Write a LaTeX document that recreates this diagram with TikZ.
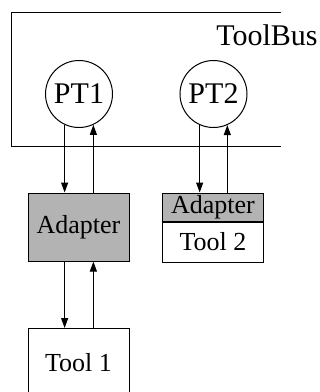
\documentclass[tikz,border=0pt]{standalone}
\usepackage{fontspec}
\setmainfont{Liberation Serif}
\usetikzlibrary{arrows.meta}
\definecolor{adgray}{RGB}{179,179,179}
\tikzset{
  box/.style={draw, line width=1pt, inner sep=0pt, minimum width=101pt, font=\fontsize{26}{30}\selectfont},
  proc/.style={draw, circle, line width=1pt, inner sep=0pt, minimum size=67pt, font=\fontsize{30}{34}\selectfont},
  flow/.style={-{Triangle[length=10pt,width=7pt]}, line width=1pt},
}
\begin{document}
\begin{tikzpicture}[x=1pt,y=-1pt,line width=1pt]
\useasboundingbox (0,0) rectangle (320,392);
\clip (0,0) rectangle (320,392);
% ToolBus frame
\coordinate (tl) at (11,12);
\coordinate (tr) at (281,12);
\coordinate (bl) at (11,146);
\coordinate (br) at (281,146);
\draw (tr) -- (tl) -- (bl) -- (br);
\node[anchor=base east, font=\fontsize{30}{34}\selectfont, inner sep=0pt] (tb) at (318,45) {ToolBus};
% processes
\node[proc] (pt1) at (79,94) {PT1};
\node[proc] (pt2) at (213.5,94) {PT2};
% adapters and tools
\node[box, fill=adgray, minimum height=68pt] (ad1) at (78.5,227) {Adapter};
\node[box, fill=adgray, minimum height=28pt] (ad2) at (213,207) {Adapter};
\node[box, minimum height=40pt, anchor=north] (tool2) at (ad2.south) {Tool 2};
\node[box, minimum height=68pt, anchor=north] (tool1) at (78.5,328) {Tool 1};
% connectors
\draw[flow] (pt1.-115) -- (pt1.-115 |- ad1.north);
\draw[flow] (pt1.-65 |- ad1.north) -- (pt1.-65);
\draw[flow] (pt2.-114) -- (pt2.-114 |- ad2.north);
\draw[flow] (pt2.-66 |- ad2.north) -- (pt2.-66);
\draw[flow] (pt1.-115 |- ad1.south) -- (pt1.-115 |- tool1.north);
\draw[flow] (pt1.-65 |- tool1.north) -- (pt1.-65 |- ad1.south);
\end{tikzpicture}
\end{document}
